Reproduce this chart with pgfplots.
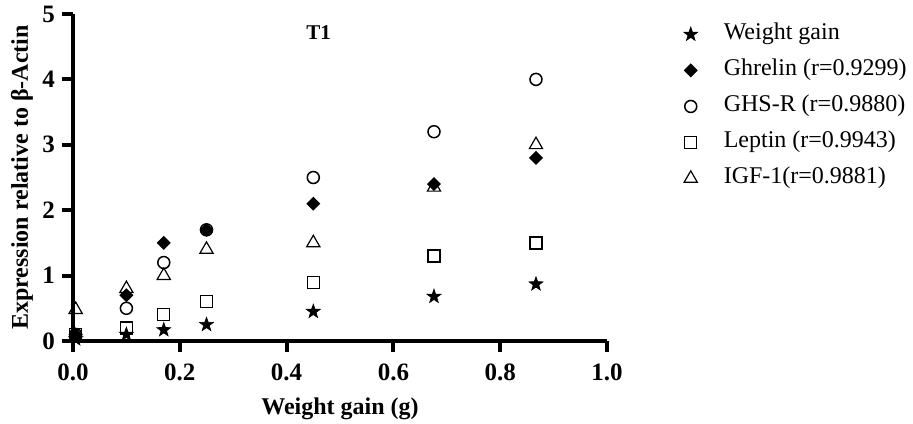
\documentclass[border=0pt]{standalone}
\usepackage{fontspec}
\setmainfont{Liberation Serif}
\usepackage{pgfplots}
\pgfplotsset{compat=1.18}
\pgfdeclareplotmark{fstar}{%
  \pgfmathsetlengthmacro\rin{0.40*\pgfplotmarksize}%
  \pgfpathmoveto{\pgfpointpolar{90}{\pgfplotmarksize}}%
  \pgfpathlineto{\pgfpointpolar{126}{\rin}}%
  \pgfpathlineto{\pgfpointpolar{162}{\pgfplotmarksize}}%
  \pgfpathlineto{\pgfpointpolar{198}{\rin}}%
  \pgfpathlineto{\pgfpointpolar{234}{\pgfplotmarksize}}%
  \pgfpathlineto{\pgfpointpolar{270}{\rin}}%
  \pgfpathlineto{\pgfpointpolar{306}{\pgfplotmarksize}}%
  \pgfpathlineto{\pgfpointpolar{342}{\rin}}%
  \pgfpathlineto{\pgfpointpolar{18}{\pgfplotmarksize}}%
  \pgfpathlineto{\pgfpointpolar{54}{\rin}}%
  \pgfpathclose
  \pgfusepathqfillstroke
}
\pgfdeclareplotmark{fdiamond}{%
  \pgfpathmoveto{\pgfqpoint{0pt}{\pgfplotmarksize}}%
  \pgfpathlineto{\pgfqpoint{\pgfplotmarksize}{0pt}}%
  \pgfpathlineto{\pgfqpoint{0pt}{-\pgfplotmarksize}}%
  \pgfpathlineto{\pgfqpoint{-\pgfplotmarksize}{0pt}}%
  \pgfpathclose
  \pgfusepathqfillstroke
}
\begin{document}
\begin{tikzpicture}
\begin{axis}[
  name=ax,
  scale only axis,
  width=267pt, height=163.5pt,
  xmin=0, xmax=1, ymin=0, ymax=5,
  axis lines=left,
  axis line style={-, line width=2pt},
  every tick/.style={black, line width=2pt},
  tick align=outside,
  major tick length=5.5pt,
  xtick={0,0.2,...,1.0},
  ytick={0,1,2,3,4,5},
  clip=false,
  /pgf/number format/assume math mode=true,
  xticklabel style={yshift=-2.5pt, font=\fontsize{12.5}{14}\selectfont\bfseries, /pgf/number format/.cd, fixed, fixed zerofill, precision=1},
  yticklabel style={font=\fontsize{12.5}{14}\selectfont\bfseries},
  xlabel={Weight gain (g)},
  ylabel={Expression relative to β-Actin},
  xlabel style={at={(axis description cs:0.5,-0.208)}, anchor=center, font=\fontsize{12}{14}\selectfont\bfseries},
  ylabel style={at={(axis description cs:-0.0955,0.5)}, anchor=center, rotate=0, font=\fontsize{12}{14}\selectfont\bfseries},
  legend style={draw=none, fill=none, at={(axis description cs:1.113,1.006)}, anchor=north west,
    font=\fontsize{12}{14}\selectfont, row sep=0pt,
    nodes={text height=8.5pt, text depth=3pt, inner ysep=3.25pt}},
  legend cell align=left,
  legend image code/.code={\path[draw=none] (0pt,0pt) (23pt,0pt); \draw[#1] plot coordinates {(8.5pt,0pt)};},
]
\addplot[only marks, mark=fstar, mark size=3.7pt, black, fill=black, line width=0.3pt]
  coordinates {(0.005,0.03) (0.1,0.1) (0.17,0.17) (0.25,0.25) (0.45,0.45) (0.676,0.68) (0.867,0.87)};
\addlegendentry{Weight gain}
\addplot[only marks, mark=fdiamond, mark size=3.2pt, black, mark options={fill=black, line width=0.4pt}]
  coordinates {(0.005,0.1) (0.1,0.7) (0.17,1.5) (0.25,1.7) (0.45,2.1) (0.676,2.4) (0.867,2.8)};
\addlegendentry{Ghrelin (r=0.9299)}
\addplot[only marks, mark=o, mark size=3pt, black, mark options={line width=0.75pt}]
  coordinates {(0.005,0.1) (0.1,0.5) (0.17,1.2) (0.25,1.7) (0.45,2.5) (0.676,3.2) (0.867,4.0)};
\addlegendentry{GHS-R (r=0.9880)}
\addplot[only marks, mark=square, mark size=3pt, black, mark options={line width=0.6pt}]
  coordinates {(0.005,0.1) (0.1,0.2) (0.17,0.4) (0.25,0.6) (0.45,0.9) (0.676,1.3) (0.867,1.5)};
\addlegendentry{Leptin (r=0.9943)}
\addplot[only marks, mark=triangle, mark size=3.8pt, black, mark options={line width=0.6pt}]
  coordinates {(0.005,0.48) (0.1,0.8) (0.17,1.0) (0.25,1.4) (0.45,1.5) (0.676,2.35) (0.867,3.0)};
\addlegendentry{IGF-1(r=0.9881)}
\node[font=\fontsize{10.5}{12}\selectfont\bfseries] at (axis cs:0.46,4.71) {T1};
\end{axis}
\pgfresetboundingbox
\path[use as bounding box] ([shift={(-36.5pt,-41pt)}]ax.south west) rectangle ([shift={(420pt,170.5pt)}]ax.south west);
\end{tikzpicture}
\end{document}
